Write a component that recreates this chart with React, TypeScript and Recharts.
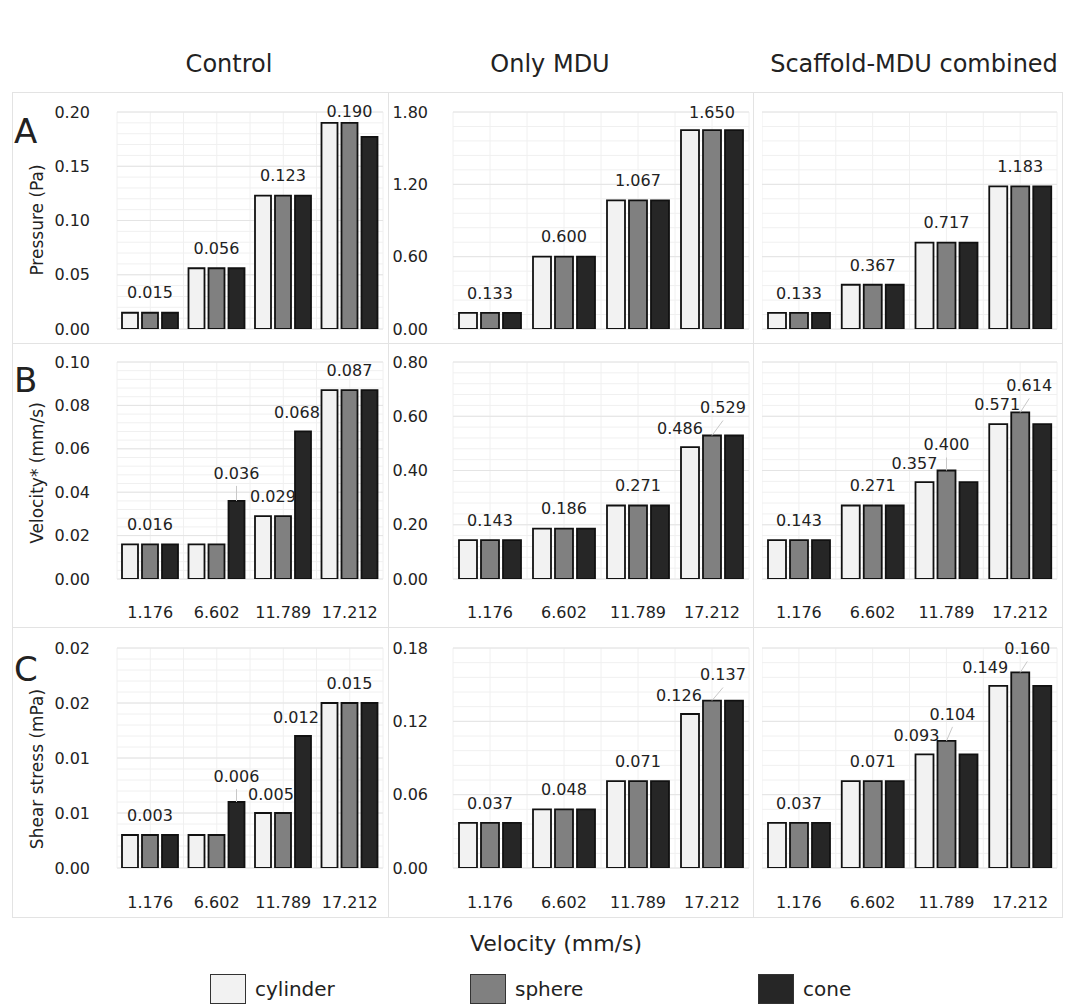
import React from "react";
import { BarChart, Bar, XAxis, YAxis, CartesianGrid, LabelList } from "recharts";

const velocities = ["1.176", "6.602", "11.789", "17.212"];
const shapes = ["cylinder", "sphere", "cone"] as const;
const columnTitles = ["Control", "Only MDU", "Scaffold-MDU combined"];
const rowLetters = ["A", "B", "C"];
const rowTitles = ["Pressure (Pa)", "Velocity* (mm/s)", "Shear stress (mPa)"];

// Pressure (Pa)
const pressureControlCylinder = [0.015, 0.056, 0.123, 0.19];
const pressureControlSphere = [0.015, 0.056, 0.123, 0.19];
const pressureControlCone = [0.015, 0.056, 0.123, 0.177];
const pressureMduCylinder = [0.133, 0.6, 1.067, 1.65];
const pressureMduSphere = [0.133, 0.6, 1.067, 1.65];
const pressureMduCone = [0.133, 0.6, 1.067, 1.65];
const pressureScaffoldCylinder = [0.133, 0.367, 0.717, 1.183];
const pressureScaffoldSphere = [0.133, 0.367, 0.717, 1.183];
const pressureScaffoldCone = [0.133, 0.367, 0.717, 1.183];

// Velocity* (mm/s)
const velocityControlCylinder = [0.016, 0.016, 0.029, 0.087];
const velocityControlSphere = [0.016, 0.016, 0.029, 0.087];
const velocityControlCone = [0.016, 0.036, 0.068, 0.087];
const velocityMduCylinder = [0.143, 0.186, 0.271, 0.486];
const velocityMduSphere = [0.143, 0.186, 0.271, 0.529];
const velocityMduCone = [0.143, 0.186, 0.271, 0.529];
const velocityScaffoldCylinder = [0.143, 0.271, 0.357, 0.571];
const velocityScaffoldSphere = [0.143, 0.271, 0.4, 0.614];
const velocityScaffoldCone = [0.143, 0.271, 0.357, 0.571];

// Shear stress (mPa)
const shearControlCylinder = [0.003, 0.003, 0.005, 0.015];
const shearControlSphere = [0.003, 0.003, 0.005, 0.015];
const shearControlCone = [0.003, 0.006, 0.012, 0.015];
const shearMduCylinder = [0.037, 0.048, 0.071, 0.126];
const shearMduSphere = [0.037, 0.048, 0.071, 0.137];
const shearMduCone = [0.037, 0.048, 0.071, 0.137];
const shearScaffoldCylinder = [0.037, 0.071, 0.093, 0.149];
const shearScaffoldSphere = [0.037, 0.071, 0.104, 0.16];
const shearScaffoldCone = [0.037, 0.071, 0.093, 0.149];

// y axis ticks
const pressureControlTicks = [0, 0.05, 0.1, 0.15, 0.2];
const pressureMduTicks = [0, 0.6, 1.2, 1.8];
const velocityControlTicks = [0, 0.02, 0.04, 0.06, 0.08, 0.1];
const velocityMduTicks = [0, 0.2, 0.4, 0.6, 0.8];
const shearControlTicks = [0, 0.005, 0.01, 0.015, 0.02];
const shearControlTickLabels = ["0.00", "0.01", "0.01", "0.02", "0.02"];
const shearMduTicks = [0, 0.06, 0.12, 0.18];

type Shape = (typeof shapes)[number];
type LabelSpec = { cat: number; shape: Shape; dx: number; lift: number; leader?: boolean };

const fills: Record<Shape, string> = {
  cylinder: "#f2f2f2",
  sphere: "#808080",
  cone: "#262626",
};

const cols = [
  { plotLeft: 117, plotWidth: 266, yWidth: 72, tickMargin: 27, catGap: 5 },
  { plotLeft: 453, plotWidth: 296, yWidth: 60, tickMargin: 25, catGap: 6 },
  { plotLeft: 762, plotWidth: 295, yWidth: 0, tickMargin: 0, catGap: 6 },
];
const rows = [
  { plotTop: 112, plotHeight: 217, axisHeight: 0, tickMargin: 0 },
  { plotTop: 362, plotHeight: 217, axisHeight: 52, tickMargin: 28 },
  { plotTop: 648, plotHeight: 220, axisHeight: 52, tickMargin: 29 },
];
const panelBoxes = {
  cols: [
    [12, 388],
    [388, 753],
    [753, 1062],
  ],
  rows: [
    [92, 343],
    [343, 627],
    [627, 917],
  ],
};

type Panel = {
  row: number;
  col: number;
  series: number[][];
  ticks: number[];
  tickLabels?: string[];
  labels: LabelSpec[];
};

const panels: Panel[] = [
  {
    row: 0, col: 0,
    series: [pressureControlCylinder, pressureControlSphere, pressureControlCone],
    ticks: pressureControlTicks,
    labels: [{ cat: 3, shape: "sphere", dx: 0, lift: 12 }],
  },
  {
    row: 0, col: 1,
    series: [pressureMduCylinder, pressureMduSphere, pressureMduCone],
    ticks: pressureMduTicks,
    labels: [{ cat: 3, shape: "sphere", dx: 0, lift: 18 }],
  },
  {
    row: 0, col: 2,
    series: [pressureScaffoldCylinder, pressureScaffoldSphere, pressureScaffoldCone],
    ticks: pressureMduTicks,
    labels: [],
  },
  {
    row: 1, col: 0,
    series: [velocityControlCylinder, velocityControlSphere, velocityControlCone],
    ticks: velocityControlTicks,
    labels: [
      { cat: 1, shape: "cone", dx: 0, lift: 28, leader: true },
      { cat: 2, shape: "cylinder", dx: 10, lift: 20 },
      { cat: 2, shape: "cone", dx: -6, lift: 19 },
    ],
  },
  {
    row: 1, col: 1,
    series: [velocityMduCylinder, velocityMduSphere, velocityMduCone],
    ticks: velocityMduTicks,
    labels: [
      { cat: 3, shape: "cylinder", dx: -10, lift: 19 },
      { cat: 3, shape: "sphere", dx: 11, lift: 28, leader: true },
    ],
  },
  {
    row: 1, col: 2,
    series: [velocityScaffoldCylinder, velocityScaffoldSphere, velocityScaffoldCone],
    ticks: velocityMduTicks,
    labels: [
      { cat: 2, shape: "cylinder", dx: -10, lift: 19 },
      { cat: 2, shape: "sphere", dx: 0, lift: 26, leader: true },
      { cat: 3, shape: "cylinder", dx: -1, lift: 20 },
      { cat: 3, shape: "sphere", dx: 9, lift: 27, leader: true },
    ],
  },
  {
    row: 2, col: 0,
    series: [shearControlCylinder, shearControlSphere, shearControlCone],
    ticks: shearControlTicks,
    tickLabels: shearControlTickLabels,
    labels: [
      { cat: 1, shape: "cone", dx: 0, lift: 26, leader: true },
      { cat: 2, shape: "cylinder", dx: 8, lift: 19 },
      { cat: 2, shape: "cone", dx: -7, lift: 19 },
    ],
  },
  {
    row: 2, col: 1,
    series: [shearMduCylinder, shearMduSphere, shearMduCone],
    ticks: shearMduTicks,
    labels: [
      { cat: 3, shape: "cylinder", dx: -11, lift: 19 },
      { cat: 3, shape: "sphere", dx: 11, lift: 26, leader: true },
    ],
  },
  {
    row: 2, col: 2,
    series: [shearScaffoldCylinder, shearScaffoldSphere, shearScaffoldCone],
    ticks: shearMduTicks,
    labels: [
      { cat: 2, shape: "cylinder", dx: -8, lift: 19 },
      { cat: 2, shape: "sphere", dx: 6, lift: 27, leader: true },
      { cat: 3, shape: "cylinder", dx: -13, lift: 19 },
      { cat: 3, shape: "sphere", dx: 7, lift: 24, leader: true },
    ],
  },
];

const textColor = "#222";
const fontSize = 16;

// value label: explicit spec, or a centred label on the middle bar when the group is level
const makeLabel = (panel: Panel, shape: Shape) => (props: any) => {
  const { x, y, width, value, index } = props;
  const [a, b, c] = panel.series.map((s) => s[index]);
  let spec: { dx: number; lift: number; leader?: boolean } | undefined = panel.labels.find(
    (s) => s.cat === index && s.shape === shape
  );
  if (!spec && shape === "sphere" && a === b && b === c) spec = { dx: 0, lift: 20 };
  if (!spec) return null;
  const bx = Number(x) + Number(width) / 2;
  const top = Number(y);
  const tx = bx + spec.dx;
  const ty = top - spec.lift;
  return (
    <g>
      {spec.leader && (
        <line x1={bx} y1={top} x2={tx} y2={ty + 13} stroke="#c8c8c8" strokeWidth={1} />
      )}
      <text x={tx} y={ty} dy="0.36em" textAnchor="middle" fontSize={fontSize} fill={textColor}>
        {Number(value).toFixed(3)}
      </text>
    </g>
  );
};

const PanelChart = ({ panel }: { panel: Panel }) => {
  const col = cols[panel.col];
  const row = rows[panel.row];
  const data = velocities.map((v, i) => ({
    velocity: v,
    cylinder: panel.series[0][i],
    sphere: panel.series[1][i],
    cone: panel.series[2][i],
  }));
  const top = 14;
  const right = 6;
  const bottom = row.axisHeight === 0 ? 12 : 0;
  const width = col.yWidth + col.plotWidth + right;
  const height = top + row.plotHeight + (row.axisHeight || bottom);
  const maxTick = panel.ticks[panel.ticks.length - 1];
  const minorCount = (panel.ticks.length - 1) * 5;

  return (
    <div
      style={{
        position: "absolute",
        left: col.plotLeft - col.yWidth,
        top: row.plotTop - top,
        width,
        height,
      }}
    >
      <BarChart
        width={width}
        height={height}
        data={data}
        margin={{ top, right, bottom, left: 0 }}
        barCategoryGap={col.catGap}
        barGap={4}
      >
        {/* minor grid: half-category columns and fifth-of-step rows */}
        <CartesianGrid
          stroke="#f0f0f0"
          verticalCoordinatesGenerator={({ offset }: any) =>
            Array.from({ length: 9 }, (_, i) => offset.left + (offset.width * i) / 8)
          }
          horizontalCoordinatesGenerator={({ offset }: any) =>
            Array.from({ length: minorCount + 1 }, (_, i) => offset.top + (offset.height * i) / minorCount)
          }
        />
        <CartesianGrid stroke="#e4e4e4" vertical={false} />
        <XAxis
          dataKey="velocity"
          hide={row.axisHeight === 0}
          height={row.axisHeight || undefined}
          axisLine={false}
          tickLine={false}
          tickSize={0}
          tickMargin={row.tickMargin}
          interval={0}
          tick={{ fontSize, fill: textColor }}
        />
        <YAxis
          hide={col.yWidth === 0}
          width={col.yWidth || undefined}
          domain={[0, maxTick]}
          ticks={panel.ticks}
          interval={0}
          allowDataOverflow
          axisLine={false}
          tickLine={false}
          tickSize={0}
          tickMargin={col.tickMargin}
          tick={{ fontSize, fill: textColor }}
          tickFormatter={(v: number, i: number) =>
            panel.tickLabels ? panel.tickLabels[i] : v.toFixed(2)
          }
        />
        {shapes.map((shape) => (
          <Bar
            key={shape}
            dataKey={shape}
            fill={fills[shape]}
            stroke="#111"
            strokeWidth={1.8}
            isAnimationActive={false}
          >
            <LabelList dataKey={shape} content={makeLabel(panel, shape)} />
          </Bar>
        ))}
      </BarChart>
    </div>
  );
};

const App = () => {
  const letterY = [131, 380, 669];
  const rowTitleY = [220, 473, 769];
  const titleX = [229, 550, 914];
  const legendX = [210, 470, 758];

  return (
    <div
      style={{
        position: "absolute",
        left: 0,
        top: 0,
        width: 1067,
        height: 1006,
        background: "#fff",
        fontFamily: "'DejaVu Sans', sans-serif",
        color: textColor,
        overflow: "hidden",
      }}
    >
      {/* panel frames */}
      {panelBoxes.rows.map(([y0, y1], r) =>
        panelBoxes.cols.map(([x0, x1], c) => (
          <div
            key={`${r}-${c}`}
            style={{
              position: "absolute",
              left: x0,
              top: y0,
              width: x1 - x0 + 1,
              height: y1 - y0 + 1,
              border: "1px solid #e3e3e3",
              boxSizing: "border-box",
            }}
          />
        ))
      )}

      {columnTitles.map((t, i) => (
        <div
          key={t}
          style={{
            position: "absolute",
            left: titleX[i],
            top: 64,
            transform: "translate(-50%, -50%)",
            fontSize: 24,
            whiteSpace: "nowrap",
          }}
        >
          {t}
        </div>
      ))}

      {panels.map((p) => (
        <PanelChart key={`${p.row}-${p.col}`} panel={p} />
      ))}

      {rowLetters.map((l, i) => (
        <div
          key={l}
          style={{
            position: "absolute",
            left: 14,
            top: letterY[i],
            transform: "translateY(-50%)",
            fontSize: 34,
            lineHeight: 1,
          }}
        >
          {l}
        </div>
      ))}

      {/* y axis titles, rotated */}
      {rowTitles.map((t, i) => (
        <div
          key={t}
          style={{
            position: "absolute",
            left: 37,
            top: rowTitleY[i],
            transform: "translate(-50%, -50%) rotate(-90deg)",
            fontSize: 17,
            whiteSpace: "nowrap",
          }}
        >
          {t}
        </div>
      ))}

      <div
        style={{
          position: "absolute",
          left: 556,
          top: 943,
          transform: "translate(-50%, -50%)",
          fontSize: 22,
          whiteSpace: "nowrap",
        }}
      >
        Velocity (mm/s)
      </div>

      {shapes.map((s, i) => (
        <div
          key={s}
          style={{
            position: "absolute",
            left: legendX[i],
            top: 973,
            height: 31,
            display: "flex",
            alignItems: "center",
            fontSize: 20,
          }}
        >
          <div
            style={{
              width: 36,
              height: 30,
              background: fills[s],
              border: "1.5px solid #333",
              boxSizing: "border-box",
              marginRight: 9,
            }}
          />
          {s}
        </div>
      ))}
    </div>
  );
};

export default App;
